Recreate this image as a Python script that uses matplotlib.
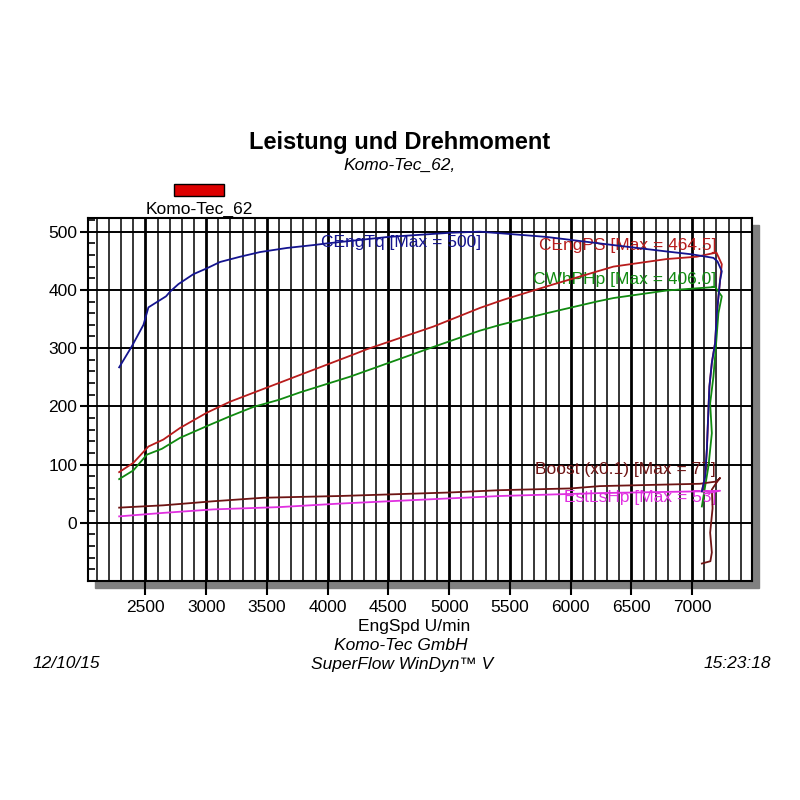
import matplotlib
matplotlib.use("Agg")
from matplotlib import pyplot as plt
from matplotlib.patches import Rectangle
from matplotlib.ticker import MultipleLocator

plt.rcParams["font.family"] = ["Liberation Sans", "DejaVu Sans"]

# torque run incl. the run-down hook at the end
tq_rpm = [2284, 2388, 2484, 2525, 2670, 2703, 2772, 2895, 3005, 3115, 3280, 3444,
          3664, 3883, 4000, 4500, 5000, 5250, 5500, 5800, 6350, 6790, 7000, 7175,
          7208, 7244, 7230, 7203, 7189, 7162, 7142, 7136, 7121, 7107, 7080]
tq_val = [267, 303, 340, 370, 389, 397, 410, 427, 437, 448, 457, 465,
          472, 477, 480, 491, 498, 500, 496, 491, 477, 466, 461, 455,
          449, 432, 417, 360, 309, 275, 234, 205, 126, 80, 54]

ps_rpm = [2284, 2401, 2525, 2648, 2786, 3005, 3197, 3773, 4212, 4322, 4870, 5253,
          5446, 5850, 6352, 6791, 7038, 7150, 7200, 7244, 7230, 7203, 7189, 7162,
          7142, 7136, 7121, 7107, 7080]
ps_val = [87, 103, 131, 143, 163, 189, 208, 254, 289, 298, 337, 369,
          383, 409, 440, 453, 457, 462, 464, 444, 417, 360, 309, 275,
          234, 205, 126, 80, 54]

whp_rpm = [2284, 2401, 2512, 2635, 2786, 3005, 3197, 3389, 3595, 3773, 4185, 4802,
           5253, 5420, 5804, 6215, 6352, 6791, 7189, 7244, 7216, 7189, 7175, 7148,
           7162, 7134, 7107, 7080]
whp_val = [75, 90, 117, 127, 146, 166, 183, 199, 211, 224, 251, 297,
           330, 340, 360, 380, 386, 399, 405, 389, 360, 286, 251, 205,
           154, 97, 63, 28]

boost_rpm = [2284, 2648, 3060, 3471, 4102, 5000, 5418, 6000, 6241, 7064, 7203, 7230,
             7210, 7162, 7168, 7148, 7162, 7150, 7080]
boost_val = [26, 30, 37, 43, 46, 52, 56, 59, 63, 67, 71, 77,
             72, 57, 25, -17, -51, -66, -70]

ls_rpm = [2284, 2648, 3060, 3609, 4102, 5418, 6241, 7064, 7230, 7100]
ls_val = [11, 17, 23, 27, 33, 46, 51, 54, 55, 50]

series = [
    ("CEngTq [Max = 500]", tq_rpm, tq_val, "#14148f", 4),
    ("CEngPS [Max = 464.5]", ps_rpm, ps_val, "#b81c1c", 3),
    ("CWhPHp [Max = 406.0]", whp_rpm, whp_val, "#108a10", 3),
    ("Boost (x0.1) [Max = 77]", boost_rpm, boost_val, "#6e1414", 3),
    ("EstLsHp [Max = 53]", ls_rpm, ls_val, "#e030e0", 3),
]
# where the curve names sit (rpm, value, alignment)
label_pos = [(3946, 481, "left"), (7197, 476, "right"), (7197, 417, "right"),
             (7197, 91, "right"), (7197, 43, "right")]

fig = plt.figure(figsize=(8, 8), dpi=100)
ax_rect = [88.3 / 800, 1 - 581 / 800, 663.4 / 800, 363.3 / 800]
ax = fig.add_axes(ax_rect)

# drop shadow behind the plot box
shadow = Rectangle((ax_rect[0] + 7 / 800, ax_rect[1] - 7 / 800), ax_rect[2], ax_rect[3],
                   transform=fig.transFigure, color="#808080", zorder=-1)
fig.add_artist(shadow)

for (name, x, y, c, z), (lx, ly, ha) in zip(series, label_pos):
    ax.plot(x, y, color=c, lw=1.3, zorder=z)
    ax.text(lx, ly, name, color=c, ha=ha, va="center", fontsize=12.5, zorder=2)

ax.set_xlim(2030, 7490)
ax.set_ylim(-100, 524)
ax.set_xticks(range(2500, 7001, 500))
ax.xaxis.set_minor_locator(MultipleLocator(100))
ax.set_yticks(range(0, 501, 100))
ax.yaxis.set_minor_locator(MultipleLocator(20))

ax.grid(which="minor", axis="x", color="black", lw=1.1)
ax.grid(which="major", axis="x", color="black", lw=2.0)
ax.grid(which="major", axis="y", color="black", lw=1.4)
ax.set_axisbelow(True)

ax.tick_params(axis="x", which="major", direction="out", length=10, width=1.5,
               labelsize=12.5, pad=4)
ax.tick_params(axis="x", which="minor", length=0)
ax.tick_params(axis="y", which="major", direction="out", length=6, width=1.5,
               labelsize=12.5, pad=2)
ax.tick_params(axis="y", which="minor", direction="in", length=5, width=1.2)
for s in ax.spines.values():
    s.set_linewidth(1.5)

fig.text(0.5, 1 - 143 / 800, "Leistung und Drehmoment", ha="center", va="center",
         fontsize=17, fontweight="bold")
fig.text(0.5, 1 - 165 / 800, "Komo-Tec_62,", ha="center", va="center",
         fontsize=12.5, style="italic")

# legend swatch
fig.add_artist(Rectangle((174 / 800, 1 - 196 / 800), 50 / 800, 12 / 800,
                         transform=fig.transFigure, facecolor="#dd0000",
                         edgecolor="black", lw=1))
fig.text(199 / 800, 1 - 209 / 800, "Komo-Tec_62", ha="center", va="center", fontsize=12.5)

fig.text(414 / 800, 1 - 627 / 800, "EngSpd U/min", ha="center", va="center", fontsize=12.5)
fig.text(401 / 800, 1 - 646 / 800, "Komo-Tec GmbH", ha="center", va="center",
         fontsize=12.5, style="italic")
fig.text(402 / 800, 1 - 664 / 800, "SuperFlow WinDyn\u2122 V", ha="center", va="center",
         fontsize=12.5, style="italic")
fig.text(33 / 800, 1 - 664 / 800, "12/10/15", ha="left", va="center",
         fontsize=12.5, style="italic")
fig.text(771 / 800, 1 - 664 / 800, "15:23:18", ha="right", va="center",
         fontsize=12.5, style="italic")

fig.savefig("out.png", dpi=100, facecolor="white")
